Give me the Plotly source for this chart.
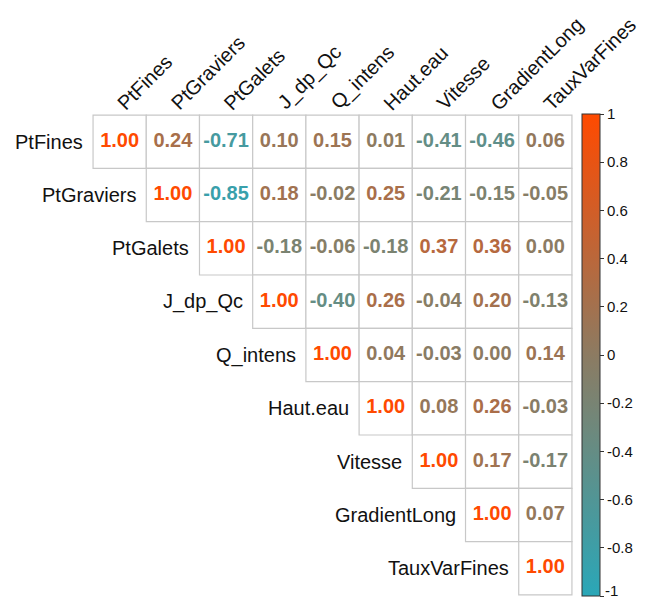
import plotly.graph_objects as go
from plotly.colors import sample_colorscale

variables = ["PtFines", "PtGraviers", "PtGalets", "J_dp_Qc", "Q_intens",
             "Haut.eau", "Vitesse", "GradientLong", "TauxVarFines"]

# upper-triangle correlation values, each row starts on the diagonal
row_PtFines = [1.00, 0.24, -0.71, 0.10, 0.15, 0.01, -0.41, -0.46, 0.06]
row_PtGraviers = [1.00, -0.85, 0.18, -0.02, 0.25, -0.21, -0.15, -0.05]
row_PtGalets = [1.00, -0.18, -0.06, -0.18, 0.37, 0.36, 0.00]
row_J_dp_Qc = [1.00, -0.40, 0.26, -0.04, 0.20, -0.13]
row_Q_intens = [1.00, 0.04, -0.03, 0.00, 0.14]
row_Haut_eau = [1.00, 0.08, 0.26, -0.03]
row_Vitesse = [1.00, 0.17, -0.17]
row_GradientLong = [1.00, 0.07]
row_TauxVarFines = [1.00]

cbar_tickvals = [-1, -0.8, -0.6, -0.4, -0.2, 0, 0.2, 0.4, 0.6, 0.8, 1]
cbar_ticktext = ["-1", "-0.8", "-0.6", "-0.4", "-0.2", "0", "0.2", "0.4", "0.6", "0.8", "1"]

rows = [row_PtFines, row_PtGraviers, row_PtGalets, row_J_dp_Qc, row_Q_intens,
        row_Haut_eau, row_Vitesse, row_GradientLong, row_TauxVarFines]

colorscale = [[0.0, "#2AA7B8"], [0.5, "#8C7B62"], [1.0, "#FF4A00"]]
FONT = "Liberation Sans, Arial, sans-serif"
CBAR_X = 1.018

xs, ys, vals = [], [], []
for i, r in enumerate(rows):
    for k, v in enumerate(r):
        xs.append(i + k)
        ys.append(i)
        vals.append(v)

text_colors = sample_colorscale(colorscale, [(v + 1) / 2 for v in vals])

fig = go.Figure()

# cell borders
shapes = []
for x, y in zip(xs, ys):
    shapes.append(dict(type="rect", xref="x", yref="y",
                       x0=x - 0.5, x1=x + 0.5, y0=y - 0.5, y1=y + 0.5,
                       line=dict(color="#C8C8C8", width=1.2),
                       fillcolor="white", layer="below"))

fig.add_trace(go.Scatter(
    x=xs, y=ys, mode="text",
    text=[f"{v:.2f}" for v in vals],
    textfont=dict(color=text_colors, size=20, family=FONT, weight="bold"),
    hoverinfo="skip", showlegend=False))

# colorbar carrier
fig.add_trace(go.Scatter(
    x=[xs[0]], y=[ys[0]], mode="markers",
    marker=dict(color=[vals[0]], colorscale=colorscale, cmin=-1, cmax=1,
                opacity=0, size=1, showscale=True,
                colorbar=dict(thickness=18, thicknessmode="pixels",
                              len=1, lenmode="fraction", y=0.5, yanchor="middle",
                              x=CBAR_X, xanchor="left", xpad=0, ypad=0,
                              outlinewidth=1, outlinecolor="#333333",
                              ticks="outside", ticklen=4, tickcolor="#333333",
                              tickvals=cbar_tickvals, ticktext=cbar_ticktext,
                              tickfont=dict(size=15, color="#111111", family=FONT))),
    hoverinfo="skip", showlegend=False))

annotations = []
for i, name in enumerate(variables):
    annotations.append(dict(x=i - 0.5, y=i, xref="x", yref="y", text=name,
                            showarrow=False, xanchor="right", yanchor="middle",
                            xshift=-8, font=dict(size=20, color="#111111", family=FONT)))
    annotations.append(dict(x=i, y=-0.5, xref="x", yref="y", text=name,
                            showarrow=False, xanchor="left", yanchor="bottom",
                            textangle=-45, xshift=-9, yshift=-2,
                            font=dict(size=20, color="#111111", family=FONT)))

# bottom colorbar label (drawn as text so it stays inside the page)
annotations.append(dict(x=CBAR_X, y=0, xref="paper", yref="paper",
                        text=cbar_ticktext[0], showarrow=False,
                        xanchor="left", yanchor="bottom", xshift=21, yshift=-5,
                        font=dict(size=15, color="#111111", family=FONT)))

fig.update_layout(
    width=645, height=601,
    margin=dict(l=92, r=72, t=114, b=5),
    paper_bgcolor="white", plot_bgcolor="white",
    xaxis=dict(range=[-0.52, 8.52], visible=False, fixedrange=True),
    yaxis=dict(range=[8.52, -0.52], visible=False, fixedrange=True),
    shapes=shapes, annotations=annotations,
)

fig.write_html("out.html",
               config={"displayModeBar": False},
               post_script="document.body.style.margin='0';document.body.style.overflow='hidden';")
